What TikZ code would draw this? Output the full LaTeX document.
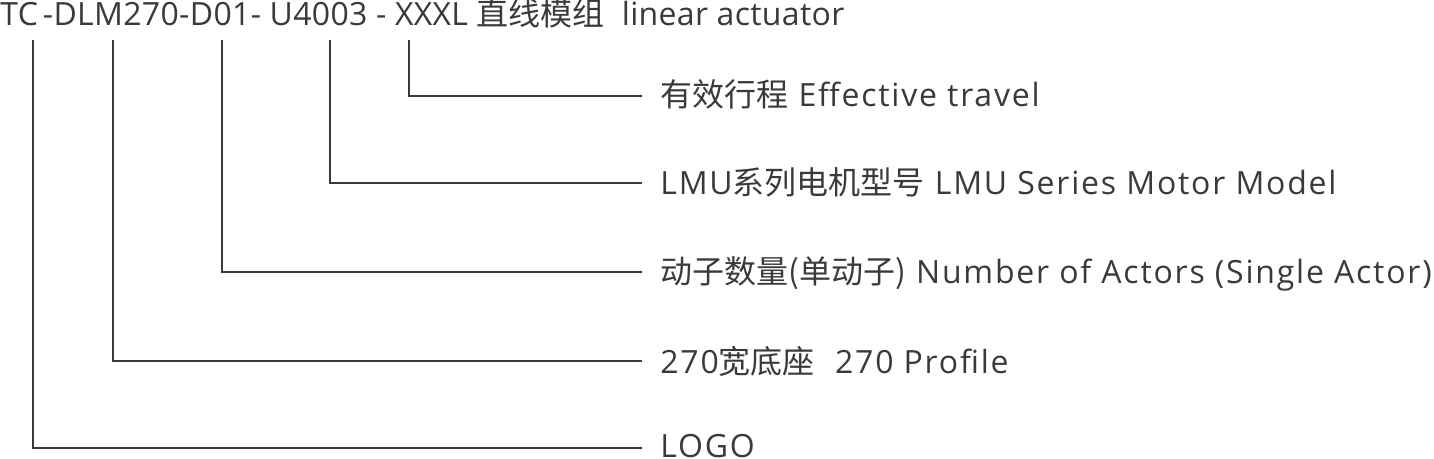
\documentclass[tikz,border=0pt]{standalone}
\usepackage{fontspec}
\setmainfont{Open Sans}
\newfontfamily\cjk{Noto Sans CJK SC}
\definecolor{ink}{HTML}{3A3A3A}

\begin{document}
\begin{tikzpicture}[x=0.5pt, y=-0.5pt,
	lab/.style={anchor=base west, inner sep=0pt, text=ink, font=\fontsize{16}{19}\selectfont\addfontfeatures{LetterSpace=5.6}},
	title/.style={lab, font=\fontsize{16}{19}\selectfont\addfontfeatures{LetterSpace=1}},
	lead/.style={draw=ink, line width=1pt}]
	\useasboundingbox (0, 0) rectangle (1434, 459);
	% model code on top
	\node[title] (code) at (0, 26) {TC\kern2.5pt-DLM270-D01- U4003 - XXXL {\cjk 直线模组}\ \ linear actuator};
	\coordinate (logotop) at (33, 40);
	\coordinate (profiletop) at (113, 40);
	\coordinate (actortop) at (222, 40);
	\coordinate (motortop) at (330, 40);
	\coordinate (traveltop) at (409, 40);
	% ends of the leaders
	\coordinate (travelend) at (642, 96);
	\coordinate (motorend) at (642, 183);
	\coordinate (actorend) at (642, 272);
	\coordinate (profileend) at (642, 361);
	\coordinate (logoend) at (642, 448);
	\draw[lead] (traveltop) |- (travelend);
	\draw[lead] (motortop) |- (motorend);
	\draw[lead] (actortop) |- (actorend);
	\draw[lead] (profiletop) |- (profileend);
	\draw[lead] (logotop) |- (logoend);
	% labels
	\node[lab] (travel) at (660, 107) {{\cjk 有效行程} Effective travel};
	\node[lab] (motor) at (660, 195) {LMU{\cjk 系列电机型号} LMU Series Motor Model};
	\node[lab] (actor) at (660, 284) {{\cjk 动子数量(单动子)} Number of Actors (Single Actor)};
	\node[lab] (profile) at (660, 374) {270{\cjk 宽底座}\ \ 270 Profile};
	\node[lab] (logo) at (660, 458) {LOGO};
\end{tikzpicture}
\end{document}
